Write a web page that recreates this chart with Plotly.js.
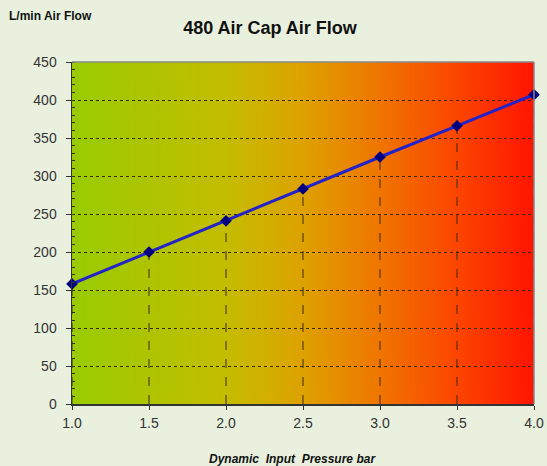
<!DOCTYPE html>
<html><head><meta charset="utf-8">
<script src="https://cdn.plot.ly/plotly-3.0.1.min.js"></script>
<style>html,body{margin:0;padding:0;background:#e9f1de;}#chart{width:547px;height:466px;}</style>
</head><body><div id="chart"></div>
<script>
// Data
const pressureBar = [1.0, 1.5, 2.0, 2.5, 3.0, 3.5, 4.0];
const airFlowLmin = [158, 200, 241, 283, 325, 366, 407];
const xTickVals = [1.0, 1.5, 2.0, 2.5, 3.0, 3.5, 4.0];
const xTickText = ['1.0', '1.5', '2.0', '2.5', '3.0', '3.5', '4.0'];
const yTickVals = [0, 50, 100, 150, 200, 250, 300, 350, 400, 450];

// Background gradient (green -> red), built on a canvas
const cv = document.createElement('canvas');
cv.width = 600; cv.height = 10;
const ctx = cv.getContext('2d');
const g = ctx.createLinearGradient(0, 0, 600, 0);
g.addColorStop(0.0, '#99cc00');
g.addColorStop(0.33, '#c4bd00');
g.addColorStop(0.5, '#dea200');
g.addColorStop(0.67, '#f07400');
g.addColorStop(0.83, '#fc4600');
g.addColorStop(1.0, '#ff1500');
ctx.fillStyle = g; ctx.fillRect(0, 0, 600, 10);
const bgUrl = cv.toDataURL();

const font = 'Liberation Sans, Arial, sans-serif';

// drop lines from each point down to the x axis
const dropLines = pressureBar.map((x, i) => ({
  type: 'line', xref: 'x', yref: 'y', x0: x, x1: x, y0: 0, y1: airFlowLmin[i],
  line: {color: '#3a2a10', width: 1, dash: 'dash'}, layer: 'below'
}));

const trace = {
  x: pressureBar, y: airFlowLmin, type: 'scatter', mode: 'lines+markers',
  line: {color: '#2323c8', width: 3},
  marker: {symbol: 'diamond', size: 9, color: '#000080'},
  cliponaxis: false, hoverinfo: 'skip'
};

const layout = {
  width: 547, height: 466,
  margin: {l: 72, r: 13, t: 62, b: 62},
  paper_bgcolor: '#e9f1de', plot_bgcolor: 'rgba(0,0,0,0)',
  showlegend: false,
  title: {text: '<b>480 Air Cap Air Flow</b>', font: {family: font, size: 18, color: '#111'},
          x: 0.4286, xref: 'paper', xanchor: 'center', y: 1 - 28/466, yanchor: 'middle'},
  xaxis: {
    range: [1.0, 4.0], tickvals: xTickVals, ticktext: xTickText,
    ticks: 'outside', ticklen: 4, tickcolor: '#333', tickwidth: 1,
    showgrid: false, zeroline: false, showline: true, linecolor: '#333', linewidth: 1.5,
    tickfont: {family: font, size: 14, color: '#333'}, ticklabelstandoff: 2
  },
  yaxis: {
    range: [0, 450], tickvals: yTickVals,
    ticks: 'outside', ticklen: 5, tickcolor: '#333', tickwidth: 1,
    minor: {dtick: 10, ticks: 'inside', ticklen: 3, tickcolor: '#333', showgrid: false},
    showgrid: true, gridcolor: '#3a2a10', griddash: 'dot', gridwidth: 1,
    zeroline: false, showline: true, linecolor: '#333', linewidth: 1.5,
    tickfont: {family: font, size: 14, color: '#333'}, ticklabelstandoff: 6
  },
  images: [{source: bgUrl, xref: 'paper', yref: 'paper', x: 0, y: 1, sizex: 1, sizey: 1,
            sizing: 'stretch', layer: 'below', xanchor: 'left', yanchor: 'top'}],
  shapes: [
    {type: 'line', xref: 'paper', yref: 'paper', x0: 0, x1: 1, y0: 1, y1: 1, line: {color: '#888', width: 1.5}},
    {type: 'line', xref: 'paper', yref: 'paper', x0: 1, x1: 1, y0: 0, y1: 1, line: {color: '#888', width: 1.5}}
  ].concat(dropLines),
  annotations: [
    {text: '<b>L/min Air Flow</b>', xref: 'paper', yref: 'paper', x: -0.141, y: 1 + 46/342,
     xanchor: 'left', yanchor: 'middle', showarrow: false,
     font: {family: font, size: 12, color: '#111'}},
    {text: '<b><i>Dynamic  Input  Pressure bar</i></b>', xref: 'paper', yref: 'paper',
     x: (292 - 72) / 462, y: -(459 - 404) / 342, xanchor: 'center', yanchor: 'middle', showarrow: false,
     font: {family: font, size: 12, color: '#111'}}
  ]
};

Plotly.newPlot('chart', [trace], layout, {staticPlot: true});
</script>
</body></html>
